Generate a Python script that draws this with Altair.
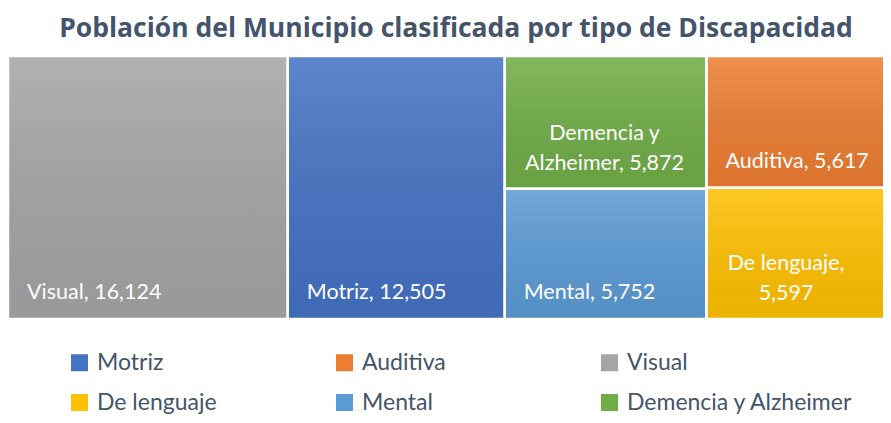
import altair as alt
import pandas as pd

# ---- data ----
categories = ["Visual", "Motriz", "Demencia y Alzheimer", "Mental", "Auditiva", "De lenguaje"]
values = [16124, 12505, 5872, 5752, 5617, 5597]
tile_columns = [0, 1, 2, 2, 3, 3]  # treemap column (slice) each tile belongs to
label_texts = ["Visual, 16,124", "Motriz, 12,505", "Demencia y\nAlzheimer, 5,872",
               "Mental, 5,752", "Auditiva, 5,617", "De lenguaje,\n5,597"]
legend_order = ["Motriz", "Auditiva", "Visual", "De lenguaje", "Mental", "Demencia y Alzheimer"]
legend_colors = ["#4472C4", "#ED7D31", "#A5A5A5", "#FFC000", "#5B9BD5", "#70AD47"]

# ---- slice-and-dice treemap layout computed from the values ----
df = pd.DataFrame({"cat": categories, "value": values, "col": tile_columns, "label": label_texts})
col_tot = df.groupby("col")["value"].sum()
col_start = col_tot.cumsum() - col_tot
df["x0"] = df["col"].map(col_start)
df["x1"] = df["x0"] + df["col"].map(col_tot)
df["y1"] = df.groupby("col")["value"].cumsum() / df["col"].map(col_tot)
df["y0"] = df["y1"] - df["value"] / df["col"].map(col_tot)
df["lines"] = df["label"].str.count("\n") + 1
df["maxlen"] = df["label"].apply(lambda s: max(len(p) for p in s.split("\n")))
total = int(df["value"].sum())

FONT = "Lato"
W, H = 875, 263
FULL_W = 893            # the reference treemap runs past the right edge
XMAX = total * W / FULL_W
PX = XMAX / W           # data units per pixel

xscale = alt.Scale(domain=[0, XMAX], nice=False, zero=True)
yscale = alt.Scale(domain=[0, 1], reverse=True, nice=False)

base = alt.Chart(df)

tiles = base.mark_rect(clip=True).encode(
    x=alt.X("x0:Q", scale=xscale, axis=None), x2="x1:Q",
    y=alt.Y("y0:Q", scale=yscale, axis=None), y2="y1:Q",
    color=alt.Color(
        "cat:N",
        scale=alt.Scale(domain=legend_order, range=legend_colors),
        legend=alt.Legend(
            title=None, orient="none", legendX=60, legendY=295,
            direction="horizontal", columns=3, symbolType="square",
            symbolSize=289, symbolStrokeWidth=0, labelFont=FONT,
            labelFontSize=23, labelColor="#44546A", columnPadding=9,
            rowPadding=16, gridAlign="all", labelOffset=6, padding=0,
            labelLimit=400,
        ),
    ),
)

shade = base.mark_rect(
    clip=True,
    fill=alt.Gradient(
        gradient="linear", x1=0, y1=0, x2=0, y2=1,
        stops=[alt.GradientStop(color="rgba(255,255,255,0.14)", offset=0),
               alt.GradientStop(color="rgba(0,0,0,0.07)", offset=1)],
    ),
    stroke="white", strokeWidth=2.5,
).encode(
    x=alt.X("x0:Q", scale=xscale, axis=None), x2="x1:Q",
    y=alt.Y("y0:Q", scale=yscale, axis=None), y2="y1:Q",
)

single = base.transform_filter("datum.lines == 1").mark_text(
    align="left", baseline="alphabetic", dx=19, dy=-20,
    color="white", font=FONT, fontSize=21.5,
).encode(
    x=alt.X("x0:Q", scale=xscale, axis=None),
    y=alt.Y("y1:Q", scale=yscale, axis=None),
    text="label:N",
)

multi = base.transform_filter("datum.lines > 1").transform_calculate(
    xc=f"datum.x0 + (19 + datum.maxlen * 5.05) * {PX}"
).mark_text(
    align="center", baseline="alphabetic", dy=-49, lineBreak="\n", lineHeight=30,
    color="white", font=FONT, fontSize=21.5,
).encode(
    x=alt.X("xc:Q", scale=xscale, axis=None),
    y=alt.Y("y1:Q", scale=yscale, axis=None),
    text="label:N",
)

chart = alt.layer(tiles, shade, single, multi).properties(
    width=W, height=H,
    autosize=alt.AutoSizeParams(type="none"),
    padding={"top": 48, "left": 0, "right": 0, "bottom": 96},
    title=alt.TitleParams(
        "Población del Municipio clasificada por tipo de Discapacidad",
        font="Open Sans", fontSize=26.5, fontWeight="bold", color="#44546A",
        anchor="middle", dx=10.5, offset=14,
    ),
).configure_view(stroke=None)

chart.save("out.html", embed_options={"renderer": "svg", "actions": False})
